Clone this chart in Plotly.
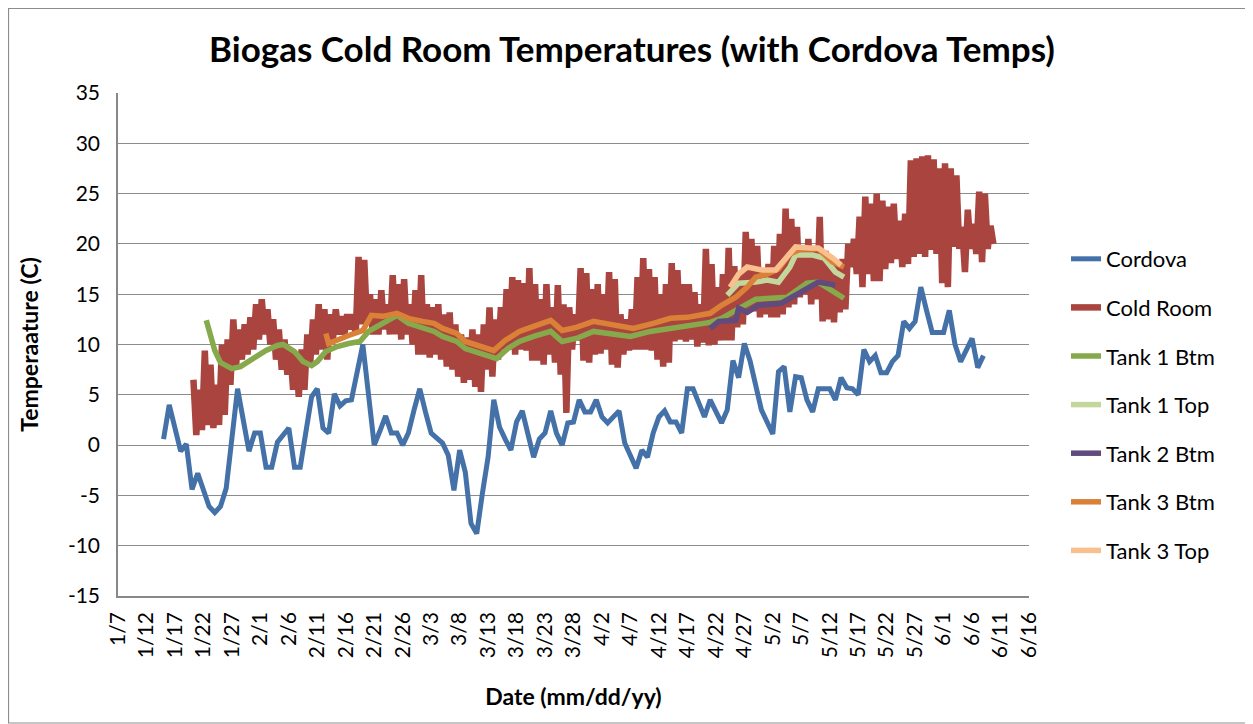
import pandas as pd
import plotly.graph_objects as go

# ---------------- data ----------------
cordova_start = "2013-01-15"
cordova_temps = [
    0.6, 4.0, 1.7, -0.6, 0.1, -4.4, -2.8, -4.5, -6.1, -6.7, -6.1, -4.3, 0.5, 5.6, 2.5, -0.6, 1.2,
    1.2, -2.2, -2.2, 0.3, 1.0, 1.7, -2.2, -2.2, 1.3, 4.8, 5.6, 1.7, 1.2, 5.1, 3.9, 4.4, 4.5, 7.5,
    10.0, 5.0, 0.0, 1.4, 2.9, 1.2, 1.2, 0.0, 1.2, 3.5,
    5.6, 3.3, 1.2, 0.7, 0.2, -1.0, -4.5, -0.5, -2.7, -7.8, -8.8, -4.8, -1.2, 4.5, 1.8, 0.6, -0.5,
    2.3, 3.4, 1.1, -1.2, 0.6, 1.2, 3.4, 1.2, 0.0, 2.2, 2.3, 4.5, 3.3, 3.3,
    4.5, 2.8, 2.2, 2.8, 3.4, 0.2, -1.0, -2.3, -0.5, -1.2, 1.2, 2.8, 3.4, 2.3, 2.3, 1.2, 5.6, 5.6,
    4.2, 2.8, 4.5, 3.3, 2.2, 3.5, 8.4, 6.7, 10.1, 8.4, 6.0, 3.5,
    2.3, 1.1, 7.3, 7.8, 3.3, 6.8, 6.7, 4.5, 3.3, 5.6, 5.6, 5.6, 4.5, 6.7, 5.7, 5.6, 5.0, 9.5, 8.3,
    8.9, 7.2, 7.2, 8.3, 8.9, 12.3, 11.6, 12.3, 15.7, 13.4, 11.2, 11.2,
    11.2, 13.4, 10.0, 8.3, 9.6, 10.6, 7.7, 8.9,
]

cold_start = "2013-01-20"
cold_high = [
    6.5, 5.5, 9.4, 8.0, 6.0, 10.0, 10.5, 12.5, 11.5, 12.0, 12.7, 14.0,
    14.5, 13.5, 12.5, 11.5, 10.5, 9.5, 9.0, 9.5, 11.0, 12.5, 14.0, 13.5, 13.0, 13.5, 12.8, 13.0,
    13.0, 18.7, 18.4, 15.0, 14.5, 15.4, 14.0, 16.9, 16.0, 16.5, 14.0, 15.4,
    16.9, 14.0, 13.7, 14.0, 13.0, 13.2, 12.0, 11.0, 10.7, 11.5, 11.0, 12.0, 13.7, 12.5, 13.7, 15.5,
    16.7, 16.4, 16.1, 17.6, 16.0, 14.5, 16.0, 13.7, 15.9, 14.0, 13.7, 13.0, 17.6, 17.1, 15.5,
    16.0, 15.0, 17.2, 16.5, 13.0, 12.5, 13.5, 16.7, 18.6, 17.5, 16.7, 15.0, 16.0, 18.1, 17.4, 16.0,
    16.0, 15.2, 14.0, 19.5, 18.0, 15.7, 17.0, 19.6, 17.8, 17.0, 21.2, 20.5, 19.8, 17.2,
    18.0, 19.8, 21.0, 23.5, 22.5, 21.7, 19.5, 20.5, 19.5, 22.7, 19.3, 18.5, 18.2, 18.5, 20.0, 20.5,
    22.7, 24.7, 24.0, 25.0, 24.3, 23.7, 24.0, 22.3, 23.0, 28.3, 28.5, 28.7, 28.8, 28.4, 27.5,
    28.0, 27.5, 26.8, 21.7, 23.4, 22.0, 25.2, 25.0, 21.8,
]
cold_low = [
    1.0, 1.5, 2.0, 1.7, 2.0, 3.0, 6.0, 8.0, 8.5, 9.0, 9.5, 10.5,
    11.0, 10.0, 8.5, 7.5, 7.0, 5.5, 4.8, 5.5, 8.0, 9.0, 9.5, 8.5, 10.5, 11.0, 11.0, 11.5,
    11.0, 12.0, 12.0, 11.0, 11.0, 11.5, 11.0, 11.0, 10.5, 11.0, 10.0, 9.0,
    9.0, 8.7, 9.0, 8.5, 7.8, 7.5, 6.8, 6.2, 6.5, 5.8, 5.3, 7.5, 6.8, 8.5, 9.5, 9.5,
    9.0, 9.5, 9.4, 8.4, 8.4, 8.0, 9.0, 8.2, 7.0, 3.2, 9.5, 10.4, 8.4, 8.2, 9.0,
    9.1, 9.5, 8.0, 7.7, 9.0, 9.4, 9.5, 9.5, 9.5, 9.4, 8.5, 7.8, 8.2, 10.3, 10.5, 10.3,
    10.5, 9.8, 10.2, 9.9, 10.0, 10.4, 10.4, 10.4, 11.7, 12.0, 13.3, 13.3, 12.7, 13.0,
    12.7, 12.7, 13.0, 13.7, 14.0, 14.7, 15.0, 14.0, 14.5, 12.3, 12.5, 12.2, 13.2, 13.5, 17.7, 17.0,
    15.7, 17.0, 16.3, 16.3, 17.5, 18.1, 18.5, 17.7, 18.0, 18.7, 19.0, 18.7, 19.4, 19.0, 16.1,
    15.7, 19.7, 19.5, 17.2, 19.5, 19.0, 18.2, 19.5, 20.0,
]

tank1_btm_dates = [
    "2013-01-22 12:00", "2013-01-24", "2013-01-25", "2013-01-27", "2013-01-28 12:00", "2013-01-30",
    "2013-02-01", "2013-02-02", "2013-02-04", "2013-02-05", "2013-02-07", "2013-02-08 12:00",
    "2013-02-10", "2013-02-11", "2013-02-12 12:00", "2013-02-14 12:00", "2013-02-16 12:00",
    "2013-02-18 12:00", "2013-02-20", "2013-02-22", "2013-02-25", "2013-02-27", "2013-03-01 12:00",
    "2013-03-03 12:00", "2013-03-05", "2013-03-07 12:00", "2013-03-09", "2013-03-12",
    "2013-03-14 12:00", "2013-03-16 12:00", "2013-03-18 12:00", "2013-03-21", "2013-03-24",
    "2013-03-26", "2013-03-28 12:00", "2013-03-31 12:00", "2013-04-04", "2013-04-07",
    "2013-04-10 12:00", "2013-04-14", "2013-04-17", "2013-04-19", "2013-04-21", "2013-04-23",
    "2013-04-24 12:00", "2013-04-26", "2013-04-29", "2013-05-04 12:00", "2013-05-08", "2013-05-10",
    "2013-05-13", "2013-05-14 12:00",
]
tank1_btm_temps = [
    12.4, 9.4, 8.2, 7.6, 7.8, 8.3, 9.0, 9.4, 9.9, 10.0, 9.3, 8.3, 7.9, 8.3, 9.3, 9.8, 10.1,
    10.3, 11.3, 11.9, 12.9, 12.1, 11.6, 11.3, 10.8, 10.3, 9.6, 9.1, 8.6, 9.6, 10.3, 10.8, 11.3,
    10.3, 10.6, 11.3, 11.1, 10.8, 11.3, 11.6, 11.9, 12.1, 12.2, 12.6, 13.1, 13.6, 14.5, 14.7,
    16.1, 16.2, 15.1, 14.6,
]

tank1_top_dates = [
    "2013-04-24", "2013-04-26", "2013-04-29", "2013-05-01", "2013-05-03", "2013-05-05",
    "2013-05-06", "2013-05-09", "2013-05-11", "2013-05-13", "2013-05-14 12:00",
]
tank1_top_temps = [14.9, 16.1, 16.2, 16.4, 16.2, 17.7, 18.9, 18.9, 18.6, 17.2, 16.7]

tank2_btm_dates = [
    "2013-04-21", "2013-04-22 12:00", "2013-04-25 12:00", "2013-04-26", "2013-04-27 12:00",
    "2013-04-29 12:00", "2013-05-03 12:00", "2013-05-06", "2013-05-08 12:00", "2013-05-10",
    "2013-05-13",
]
tank2_btm_temps = [11.6, 12.3, 12.4, 13.6, 13.2, 13.9, 14.1, 14.9, 15.7, 16.2, 15.9]

tank3_btm_dates = [
    "2013-02-12 12:00", "2013-02-13", "2013-02-16 12:00", "2013-02-19", "2013-02-20 12:00",
    "2013-02-22 12:00", "2013-02-25", "2013-02-27", "2013-03-01 12:00", "2013-03-03 12:00",
    "2013-03-05", "2013-03-07 12:00", "2013-03-09", "2013-03-12", "2013-03-14", "2013-03-16",
    "2013-03-18 12:00", "2013-03-21", "2013-03-24", "2013-03-26", "2013-03-28 12:00",
    "2013-03-31 12:00", "2013-04-04", "2013-04-07 12:00", "2013-04-11", "2013-04-14",
    "2013-04-17", "2013-04-19", "2013-04-21", "2013-04-23", "2013-04-25 12:00",
    "2013-04-27 12:00", "2013-04-29", "2013-05-01", "2013-05-03", "2013-05-05", "2013-05-07",
    "2013-05-10", "2013-05-12 12:00", "2013-05-14 12:00",
]
tank3_btm_temps = [
    11.1, 10.1, 10.9, 11.4, 12.9, 12.8, 13.1, 12.6, 12.3, 12.1, 11.6, 11.1, 10.3, 9.8, 9.4,
    10.4, 11.3, 11.8, 12.4, 11.4, 11.7, 12.3, 12.0, 11.6, 12.1, 12.6, 12.7, 12.9, 13.1, 13.9,
    14.7, 15.7, 16.7, 17.0, 17.5, 19.0, 19.5, 19.5, 18.2, 17.7,
]

tank3_top_dates = [
    "2013-04-24 12:00", "2013-04-26", "2013-04-27 12:00", "2013-04-30", "2013-05-02 12:00",
    "2013-05-04 12:00", "2013-05-06", "2013-05-08 12:00", "2013-05-10", "2013-05-12 12:00",
    "2013-05-14",
]
tank3_top_temps = [15.7, 17.0, 17.7, 17.4, 17.4, 18.6, 19.7, 19.6, 19.6, 18.6, 17.9]

series_names = ["Cordova", "Cold Room", "Tank 1 Btm", "Tank 1 Top", "Tank 2 Btm", "Tank 3 Btm", "Tank 3 Top"]
series_colors = ["#4471A8", "#A9443F", "#86A94B", "#C3D69B", "#614A7E", "#DA8137", "#F9BF8F"]

x_range = ["2013-01-07", "2013-06-16"]
y_ticks = [-15, -10, -5, 0, 5, 10, 15, 20, 25, 30, 35]
y_tick_labels = ["-15", "-10", "-5", "0", "5", "10", "15", "20", "25", "30", "35"]

# ---------------- build ----------------
cordova_dates = pd.date_range(cordova_start, periods=len(cordova_temps), freq="D")

cold_days = pd.date_range(cold_start, periods=len(cold_high), freq="D")
cold_x, cold_y = [], []
for d, hi, lo in zip(cold_days, cold_high, cold_low):
    cold_x += [d + pd.Timedelta(hours=6), d + pd.Timedelta(hours=18)]
    cold_y += [hi, lo]

xs = [cordova_dates, cold_x, tank1_btm_dates, tank1_top_dates, tank2_btm_dates, tank3_btm_dates, tank3_top_dates]
ys = [cordova_temps, cold_y, tank1_btm_temps, tank1_top_temps, tank2_btm_temps, tank3_btm_temps, tank3_top_temps]
widths = [5, 6.5, 5.5, 5.5, 5.5, 5.5, 5.5]

FONT = "Lato"
fig = go.Figure()
for name, col, x, y, w in zip(series_names, series_colors, xs, ys, widths):
    fig.add_trace(go.Scatter(
        x=x, y=y, mode="lines", name=name, legendgroup=name,
        line=dict(color=col, width=w, shape="linear"),
    ))

# page body has an 8px margin, so the figure is drawn offset by (8, 8)
OFF = 8
W, H = 1245, 716
L, T = 118 - OFF, 93 - OFF
R, B = W - (1029 - OFF), H - (596 - OFF)
PW, PH = W - L - R, H - T - B


def px_x(p):  # screen pixel -> paper x
    return (p - OFF - L) / PW


def px_y(p):  # screen pixel -> paper y
    return (H - B - (p - OFF)) / PH


fig.update_layout(
    width=W, height=H,
    margin=dict(l=L, r=R, t=T, b=B, autoexpand=False),
    paper_bgcolor="white", plot_bgcolor="white",
    font=dict(family=FONT, color="black"),
    title=dict(
        text="<b>Biogas Cold Room Temperatures (with Cordova Temps)</b>",
        x=(632 - OFF) / W, xanchor="center", xref="container",
        y=1 - (50 - OFF) / H, yanchor="middle", yref="container",
        font=dict(size=35, family=FONT, color="black"),
    ),
    xaxis=dict(
        type="date", range=x_range, automargin=False,
        tick0="2013-01-07", dtick=5 * 86400000, tickformat="%-m/%-d",
        tickangle=-90, tickfont=dict(size=21, family=FONT),
        showgrid=False, showline=True, linecolor="#888888", linewidth=1.5,
        ticks="", ticklabelstandoff=6,
        title=dict(text="<b>Date (mm/dd/yy)</b>", font=dict(size=23, family=FONT), standoff=32),
    ),
    yaxis=dict(
        range=[-15, 35], tickmode="array", tickvals=y_ticks, ticktext=y_tick_labels,
        tickfont=dict(size=21, family=FONT),
        automargin=False,
        showgrid=True, gridcolor="#8C8C8C", gridwidth=1.3,
        showline=True, linecolor="#888888", linewidth=1.5,
        zeroline=False, ticks="", ticklabelstandoff=12,
        title=dict(text="<b>Temperaature (C)</b>", font=dict(size=23, family=FONT), standoff=23),
    ),
    legend=dict(
        x=px_x(1066), xanchor="left", y=px_y(238), yanchor="top",
        font=dict(size=22, family=FONT), tracegroupgap=17,
        bgcolor="rgba(0,0,0,0)", itemwidth=30,
    ),
    showlegend=True,
)

fig.add_shape(
    type="rect", xref="paper", yref="paper",
    x0=px_x(OFF + 0.5), x1=px_x(OFF + W - 1), y0=px_y(OFF + H - 1), y1=px_y(OFF + 0.5),
    line=dict(color="#8C8C8C", width=1.2), fillcolor="rgba(0,0,0,0)", layer="below",
)

fig.write_html("out.html")
